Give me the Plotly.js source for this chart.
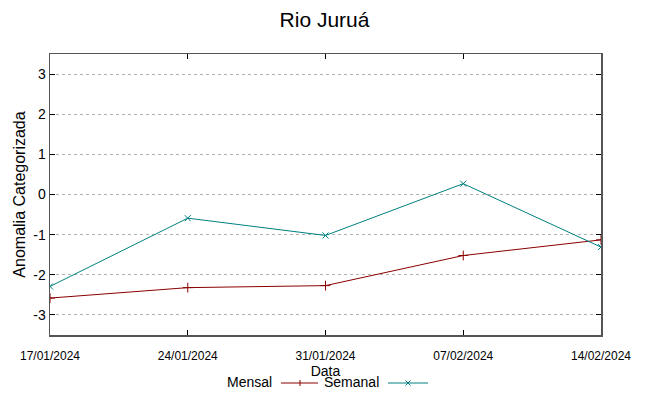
<!DOCTYPE html>
<html>
<head>
<meta charset="utf-8">
<script src="https://cdn.plot.ly/plotly-3.0.1.min.js"></script>
<style>html,body{margin:0;padding:0;background:#fff;}#chart{width:649px;height:396px;}</style>
</head>
<body>
<div id="chart"></div>
<script>
const dates = ["2024-01-17", "2024-01-24", "2024-01-31", "2024-02-07", "2024-02-14"];
const tickLabels = ["17/01/2024", "24/01/2024", "31/01/2024", "07/02/2024", "14/02/2024"];
const yTickVals = [-3, -2, -1, 0, 1, 2, 3];
const yTickText = ["-3", "-2", "-1", "0", "1", "2", "3"];
const mensal = [-2.58, -2.32, -2.27, -1.52, -1.13];
const semanal = [-2.29, -0.59, -1.02, 0.27, -1.31];
const seriesNames = ["Mensal", "Semanal"];
const colors = ["#8b0000", "#008080"];

const FONT = "Liberation Sans, Arial, sans-serif";
const traces = [
  {x: dates, y: mensal, name: seriesNames[0], type: "scatter", mode: "lines+markers",
   line: {color: colors[0], width: 1}, marker: {symbol: "cross-thin-open", size: 7, color: colors[0], line: {color: colors[0], width: 1}}, showlegend: false},
  {x: dates, y: semanal, name: seriesNames[1], type: "scatter", mode: "lines+markers",
   line: {color: colors[1], width: 1}, marker: {symbol: "x-thin-open", size: 6, color: colors[1], line: {color: colors[1], width: 1}}, showlegend: false}
];

// custom gnuplot-style legend (text left of sample)
const W = 551, H = 281;
function px(x) { return (x - 50) / W; }
function py(y) { return (335 - y) / H; }
const legY = 382;
const annotations = [
  {xref: "paper", yref: "paper", x: px(274), y: py(legY), xanchor: "right", yanchor: "middle", text: seriesNames[0], showarrow: false, font: {family: FONT, size: 14, color: "#000"}},
  {xref: "paper", yref: "paper", x: px(381), y: py(legY), xanchor: "right", yanchor: "middle", text: seriesNames[1], showarrow: false, font: {family: FONT, size: 14, color: "#000"}}
];
const shapes = [
  {type: "line", xref: "paper", yref: "paper", x0: px(281), x1: px(318), y0: py(legY + 1), y1: py(legY + 1), line: {color: colors[0], width: 1}},
  {type: "line", xref: "paper", yref: "paper", x0: px(300), x1: px(300), y0: py(legY - 2), y1: py(legY + 4), line: {color: colors[0], width: 1}},
  {type: "line", xref: "paper", yref: "paper", x0: px(388), x1: px(428), y0: py(legY + 1), y1: py(legY + 1), line: {color: colors[1], width: 1}},
  {type: "line", xref: "paper", yref: "paper", x0: px(405.5), x1: px(410.5), y0: py(legY - 1.5), y1: py(legY + 3.5), line: {color: colors[1], width: 1}},
  {type: "line", xref: "paper", yref: "paper", x0: px(405.5), x1: px(410.5), y0: py(legY + 3.5), y1: py(legY - 1.5), line: {color: colors[1], width: 1}}
];

const layout = {
  width: 649, height: 396,
  margin: {l: 50, r: 48, t: 54, b: 61},
  paper_bgcolor: "#fff", plot_bgcolor: "#fff",
  font: {family: FONT, color: "#000"},
  title: {text: "Rio Juruá", x: 0.5, xanchor: "center", y: 0.95, yanchor: "middle", font: {family: FONT, size: 21, color: "#000"}},
  showlegend: false,
  xaxis: {
    type: "date", range: [dates[0], dates[dates.length - 1]],
    tickvals: dates, ticktext: tickLabels,
    ticks: "inside", ticklen: 5, tickcolor: "#000", tickwidth: 1,
    showline: true, linecolor: "#555", linewidth: 1.5, mirror: "ticks",
    showgrid: false, zeroline: false,
    tickfont: {family: FONT, size: 12, color: "#000"},
    ticklabelstandoff: 9,
    title: {text: "Data", standoff: 0, font: {family: FONT, size: 14, color: "#000"}}
  },
  yaxis: {
    range: [-3.5, 3.5], tickvals: yTickVals, ticktext: yTickText,
    ticks: "inside", ticklen: 5, tickcolor: "#000", tickwidth: 1,
    showline: true, linecolor: "#555", linewidth: 1.5, mirror: "ticks",
    showgrid: true, gridcolor: "#b0b0b0", griddash: "dot", gridwidth: 1,
    zeroline: false,
    tickfont: {family: FONT, size: 14, color: "#000"},
    title: {text: "Anomalia Categorizada", standoff: 3, font: {family: FONT, size: 16, color: "#000"}}
  },
  annotations: annotations,
  shapes: shapes
};

Plotly.newPlot("chart", traces, layout, {displayModeBar: false, staticPlot: true});
</script>
</body>
</html>
